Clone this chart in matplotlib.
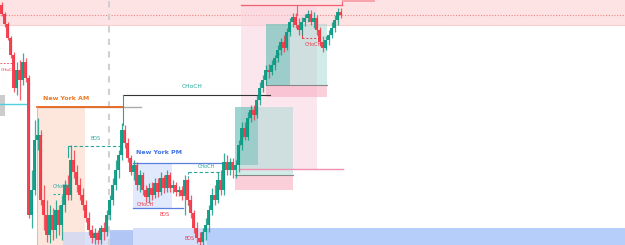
import matplotlib
matplotlib.use("Agg")
import matplotlib.pyplot as plt
from matplotlib.patches import Rectangle
import numpy as np

# ---- candle data (arbitrary price units) ----
opens = [240, 231, 221, 207, 190, 157, 175, 165, 183, 167, 30, 55, 105, 110, 45, 30, 10, 30, 15, 35,
         20, 40, 60, 50, 85, 73, 60, 50, 40, 27, 15, 7, 12, 5, 17, 13, 30, 45, 60, 75,
         90, 115, 102, 87, 73, 80, 60, 70, 55, 48, 57, 50, 62, 53, 67, 57, 70, 57, 60, 53,
         55, 49, 65, 45, 32, 17, 7, 3, 13, 20, 35, 50, 45, 65, 55, 83, 75, 83, 75, 80,
         100, 117, 108, 127, 135, 130, 145, 157, 165, 175, 173, 180, 187, 195, 203, 197, 213, 223, 228, 220,
         215, 223, 227, 231, 223, 227, 215, 203, 197, 205, 210, 217, 225, 233]
closes = [231, 221, 207, 190, 157, 175, 165, 183, 167, 30, 55, 105, 110, 45, 30, 10, 30, 15, 35, 20,
          40, 60, 50, 85, 73, 60, 50, 40, 27, 15, 7, 12, 5, 17, 13, 30, 45, 60, 75, 90,
          115, 102, 87, 73, 80, 60, 70, 55, 48, 57, 50, 62, 53, 67, 57, 70, 57, 60, 53, 55,
          49, 65, 45, 32, 17, 7, 3, 13, 20, 35, 50, 45, 65, 55, 83, 75, 83, 75, 80, 100,
          117, 108, 127, 135, 130, 145, 157, 165, 175, 173, 180, 187, 195, 203, 197, 213, 223, 228, 220, 215,
          223, 227, 231, 223, 227, 215, 203, 197, 205, 210, 217, 225, 233, 230]
highs = [243, 233, 223, 209, 193, 183, 185, 192, 187, 170, 75, 125, 127, 115, 60, 45, 40, 37, 45, 40,
         50, 65, 70, 100, 95, 80, 67, 57, 45, 33, 20, 17, 15, 20, 23, 35, 50, 67, 85, 95,
         122, 120, 107, 90, 85, 83, 75, 73, 60, 62, 63, 67, 67, 73, 70, 75, 73, 65, 63, 59,
         59, 70, 67, 50, 35, 23, 13, 17, 27, 40, 57, 60, 73, 75, 92, 90, 87, 87, 85, 105,
         123, 123, 133, 140, 140, 150, 163, 170, 180, 181, 185, 190, 200, 207, 210, 217, 227, 232, 232, 227,
         228, 231, 235, 235, 233, 230, 218, 209, 209, 215, 223, 230, 237, 237]
lows = [229, 218, 205, 187, 153, 150, 145, 160, 163, 27, 17, 50, 95, 40, 15, 3, 2, 5, 7, 10,
        5, 33, 45, 45, 67, 53, 45, 35, 23, 10, 2, 1, 1, 1, 5, 9, 25, 40, 55, 67,
        85, 97, 83, 70, 65, 55, 53, 50, 43, 42, 45, 47, 48, 50, 52, 53, 53, 52, 49, 49,
        45, 30, 40, 27, 12, 2, 0, 0, 5, 13, 30, 40, 42, 50, 50, 70, 70, 67, 67, 73,
        95, 105, 105, 123, 125, 127, 140, 153, 160, 167, 170, 175, 183, 190, 193, 195, 209, 218, 217, 210,
        210, 219, 223, 220, 217, 210, 199, 193, 195, 200, 207, 213, 220, 227]

UP = '#089981'
DOWN = '#f23645'

fig = plt.figure(figsize=(6.25, 2.45), dpi=100)
ax = fig.add_axes([0, 0, 1, 1])
ax.set_xlim(-0.5, 207.8)
ax.set_ylim(0, 245)
ax.axis('off')

def box(x0, x1, y0, y1, color, alpha=1.0, z=1, ec='none', lw=0):
    ax.add_patch(Rectangle((x0, y0), x1 - x0, y1 - y0, facecolor=color, alpha=alpha,
                           edgecolor=ec, linewidth=lw, zorder=z))

# ---- zones ----
box(-0.5, 207.8, 220, 245, '#fde3e3', z=0.5)
ax.plot([-0.5, 207.8], [220, 220], color='#f9cfcf', lw=0.8, zorder=0.6)
ax.plot([-0.5, 207.8], [230, 230], color='#f08080', lw=0.8, ls=(0, (1, 1.5)), zorder=0.7)

# tall pink box
box(79.8, 105.2, 76, 240, '#fbd3e0', alpha=0.55, z=0.8)
# upper teal boxes
box(88.2, 108.5, 160, 221, '#9ad7cd', alpha=0.45, z=1)
box(88.2, 96.2, 160, 221, '#26a69a', alpha=0.3, z=1.1)
box(88.2, 108.5, 148, 160, '#f7a9bd', alpha=0.55, z=1)
ax.plot([88.2, 108.5], [160, 160], color='#888888', lw=0.8, zorder=1.2)
# lower teal boxes
box(77.8, 97.2, 70, 138, '#9ad7cd', alpha=0.45, z=1)
box(77.8, 85.5, 80, 138, '#26a69a', alpha=0.3, z=1.1)
box(77.8, 97.2, 55, 70, '#f7a9bd', alpha=0.55, z=1)
ax.plot([77.8, 97.2], [70, 70], color='#888888', lw=0.8, zorder=1.2)
ax.plot([79.5, 113.8], [76, 76], color='#f48fb1', lw=1.0, zorder=1.3)
# dashed diagonals
ax.plot([79.5, 83.8], [98, 138], color='#999999', lw=0.6, ls=(0, (3, 2)), zorder=1.4)
ax.plot([91.2, 96.2], [178, 220], color='#999999', lw=0.6, ls=(0, (3, 2)), zorder=1.4)

# top red lines
ax.plot([79.8, 113.5], [240, 240], color='#f06070', lw=0.9, zorder=2)
ax.plot([98.5, 98.5], [240, 230], color='#f06070', lw=0.8, zorder=2)
ax.plot([113.5, 113.5], [240, 245], color='#f06070', lw=0.8, zorder=2)
box(113.5, 124.5, 243, 245, '#f7a5ad', z=2)

# CHoCH black line
ax.plot([40.5, 89.5], [150, 150], color='#333333', lw=0.8, zorder=2)
ax.plot([40.5, 40.5], [150, 120], color='#26a69a', lw=0.8, zorder=2)
ax.text(63.5, 159, 'CHoCH', color='#26a69a', fontsize=4.2, ha='center', va='center', zorder=5)

# New York AM session
box(11.8, 27.8, 0, 138, '#fde7dc', z=0.5)
ax.plot([11.8, 46.5], [138, 138], color='#aaaaaa', lw=1.0, zorder=1.8)
ax.plot([11.8, 40.5], [138, 138], color='#e8651a', lw=1.3, zorder=1.9)
ax.plot([11.8, 11.8], [0, 138], color='#f7a5ad', lw=0.6, zorder=1.9)
ax.text(13.8, 147, 'New York AM', color='#f07820', fontsize=4.5, ha='left', va='center',
        fontweight='bold', zorder=5)

# dashed vertical separator
ax.plot([35.8, 35.8], [0, 245], color='#d0d0d0', lw=1.5, ls=(0, (3, 3)), zorder=0.9)

# left edge items
box(-0.5, 1.2, 129, 150, '#cccccc', z=1)
ax.plot([-0.5, 8.2], [141, 141], color='#4dd0e1', lw=1.0, zorder=2)
ax.plot([-0.5, 3.5], [182, 182], color='#f23645', lw=0.6, ls=(0, (2, 2)), zorder=2)
ax.text(-0.2, 175, 'CHoCH', color='#f23645', fontsize=3.2, ha='left', va='center', zorder=5)

# BOS / CHoCH teal (AM)
ax.plot([22.2, 40.2], [99, 99], color='#26a69a', lw=0.8, ls=(0, (3, 2)), zorder=2)
ax.plot([22.2, 22.2], [99, 88], color='#26a69a', lw=0.8, zorder=2)
ax.text(31.5, 107, 'BOS', color='#26a69a', fontsize=3.5, ha='center', va='center', zorder=5)
ax.plot([17.2, 21.8], [51, 51], color='#26a69a', lw=0.8, ls=(0, (2, 2)), zorder=2)
ax.text(19.8, 59, 'CHoCH', color='#26a69a', fontsize=3.5, ha='center', va='center', zorder=5)

# blue zones at bottom
box(20.5, 69.5, 0, 13, '#c9d7f8', alpha=0.7, z=0.6)
box(36.2, 43.8, 0, 15, '#aec3f5', alpha=0.9, z=0.7)
box(43.8, 69.5, 0, 17, '#d4e0fb', z=0.6)
box(68.5, 207.8, 0, 17, '#b6cefa', z=0.6)

# New York PM session
box(43.8, 56.8, 37, 82, '#e1e9fc', z=0.8)
ax.plot([43.8, 73.5], [82, 82], color='#5b7fe0', lw=0.9, zorder=2)
ax.plot([43.8, 60.5], [37, 37], color='#5b7fe0', lw=0.9, zorder=2)
ax.text(44.8, 92, 'New York PM', color='#3d6fe6', fontsize=4.5, ha='left', va='center',
        fontweight='bold', zorder=5)
ax.text(48, 41, 'CHoCH', color='#f23645', fontsize=3.5, ha='center', va='center', zorder=5)
ax.text(54.5, 31, 'BOS', color='#f23645', fontsize=3.5, ha='center', va='center', zorder=5)
ax.plot([62.2, 73.5], [73, 73], color='#26a69a', lw=0.8, ls=(0, (3, 2)), zorder=2)
ax.plot([62.2, 62.2], [73, 40], color='#26a69a', lw=0.7, ls=(0, (2, 2)), zorder=2)
ax.text(68.2, 79, 'CHoCH', color='#26a69a', fontsize=3.5, ha='center', va='center', zorder=5)
ax.text(62.8, 7, 'BOS', color='#f23645', fontsize=3.5, ha='center', va='center', zorder=5)

# upper red CHoCH
ax.plot([100.2, 105.5], [207, 207], color='#f23645', lw=0.7, ls=(0, (2, 2)), zorder=2)
ax.plot([100.2, 100.2], [217, 207], color='#f23645', lw=0.7, zorder=2)
ax.text(103.8, 200, 'CHoCH', color='#f23645', fontsize=3.5, ha='center', va='center', zorder=5)

# ---- candles ----
o = np.array(opens); c = np.array(closes); h = np.array(highs); l = np.array(lows)
x = np.arange(len(o))
cols = np.where(c >= o, UP, DOWN)
ax.vlines(x, l, h, colors=cols, lw=0.9, alpha=0.8, zorder=3)
body = np.maximum(np.abs(c - o), 1.5)
ax.bar(x, body, bottom=np.minimum(o, c), width=0.8, color=cols, alpha=0.92, zorder=3.1,
       linewidth=0)

fig.savefig('out.png', dpi=100)
